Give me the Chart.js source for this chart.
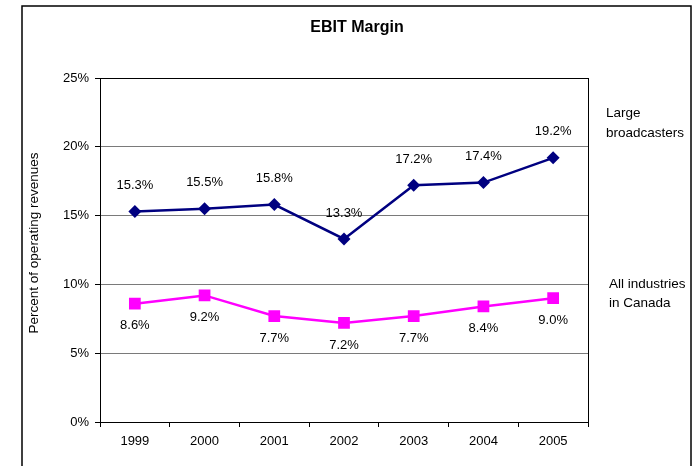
<!DOCTYPE html>
<html>
<head>
<meta charset="utf-8">
<script src="https://cdn.jsdelivr.net/npm/chart.js@4.4.1/dist/chart.umd.min.js"></script>
<style>
  body { margin: 0; background: #fff; }
  #wrap { width: 693px; height: 466px; }
</style>
</head>
<body>
<div id="wrap"><canvas id="myChart" width="693" height="466"></canvas></div>
<script>
const YEARS = ['1999', '2000', '2001', '2002', '2003', '2004', '2005'];
const LARGE_BROADCASTERS = [15.3, 15.5, 15.8, 13.3, 17.2, 17.4, 19.2];
const ALL_INDUSTRIES = [8.6, 9.2, 7.7, 7.2, 7.7, 8.4, 9.0];
const Y_TICKS = [0, 5, 10, 15, 20, 25];
const CHART_TITLE = 'EBIT Margin';
const Y_TITLE = 'Percent of operating revenues';
const SERIES_NAMES = [['Large', 'broadcasters'], ['All industries', 'in Canada']];

const FONT = "'Liberation Sans', Arial, sans-serif";

// frame, titles, side labels and the value labels
var decorPlugin = {
    id: 'decor',
    beforeDraw: function(chart) {
        var ctx = chart.ctx;
        ctx.save();
        ctx.fillStyle = '#fff';
        ctx.fillRect(0, 0, chart.width, chart.height);
        ctx.restore();
    },
    afterDraw: function(chart) {
        var ctx = chart.ctx;
        var area = chart.chartArea;
        ctx.save();

        // outer frame
        ctx.strokeStyle = '#000';
        ctx.lineWidth = 1.5;
        ctx.strokeRect(22, 6, 669, 520);

        // plot area box
        ctx.lineWidth = 1;
        ctx.strokeRect(Math.round(area.left) + 0.5, Math.round(area.top) + 0.5,
                       Math.round(area.right - area.left), Math.round(area.bottom - area.top));

        ctx.fillStyle = '#000';
        ctx.font = 'bold 16px ' + FONT;
        ctx.textAlign = 'center';
        ctx.textBaseline = 'middle';
        ctx.fillText(CHART_TITLE, 357, 28);

        // y axis title
        ctx.save();
        ctx.translate(34, 243);
        ctx.rotate(-Math.PI / 2);
        ctx.font = '13.5px ' + FONT;
        ctx.fillText(Y_TITLE, 0, 0);
        ctx.restore();

        // series names on the right
        ctx.font = '13.5px ' + FONT;
        ctx.textAlign = 'left';
        ctx.fillText(SERIES_NAMES[0][0], 606, 113);
        ctx.fillText(SERIES_NAMES[0][1], 606, 133);
        ctx.fillText(SERIES_NAMES[1][0], 609, 284);
        ctx.fillText(SERIES_NAMES[1][1], 609, 303);

        // value labels
        ctx.font = '13px ' + FONT;
        ctx.textAlign = 'center';
        chart.data.datasets.forEach(function(ds, i) {
            var meta = chart.getDatasetMeta(i);
            var off = i === 0 ? -26 : 22;
            meta.data.forEach(function(pt, j) {
                ctx.fillText(ds.data[j].toFixed(1) + '%', pt.x, pt.y + off);
            });
        });
        ctx.restore();
    }
};

var ctx = document.getElementById('myChart').getContext('2d');
new Chart(ctx, {
    type: 'line',
    data: {
        labels: YEARS,
        datasets: [{
            label: SERIES_NAMES[0].join(' '),
            data: LARGE_BROADCASTERS,
            borderColor: '#000080',
            backgroundColor: '#000080',
            borderWidth: 2.5,
            pointStyle: 'rectRot',
            pointRadius: 6.5,
            pointBorderWidth: 0,
            tension: 0
        }, {
            label: SERIES_NAMES[1].join(' '),
            data: ALL_INDUSTRIES,
            borderColor: '#FF00FF',
            backgroundColor: '#FF00FF',
            borderWidth: 2.5,
            pointStyle: 'rect',
            pointRadius: 8.3,
            pointBorderWidth: 0,
            tension: 0
        }]
    },
    options: {
        responsive: false,
        animation: false,
        layout: {
            padding: { left: 20, right: 105, top: 78, bottom: 0 }
        },
        plugins: {
            legend: { display: false },
            title: { display: false },
            tooltip: { enabled: false }
        },
        scales: {
            x: {
                offset: true,
                grid: {
                    offset: true,
                    drawOnChartArea: false,
                    tickLength: 5,
                    tickColor: '#000'
                },
                border: { color: '#000', width: 1 },
                ticks: {
                    color: '#000',
                    font: { family: FONT, size: 13 },
                    padding: 7,
                    maxRotation: 0
                },
                afterFit: function(scale) { scale.height = 44; }
            },
            y: {
                min: 0,
                max: 25,
                afterBuildTicks: function(scale) {
                    scale.ticks = Y_TICKS.map(function(v) { return { value: v }; });
                },
                grid: {
                    color: '#7a7a7a',
                    tickLength: 5,
                    tickColor: '#000'
                },
                border: { color: '#000', width: 1 },
                ticks: {
                    color: '#000',
                    font: { family: FONT, size: 13 },
                    padding: 6,
                    callback: function(v) { return v + '%'; }
                },
                afterFit: function(scale) { scale.width = 80; }
            }
        }
    },
    plugins: [decorPlugin]
});
</script>
</body>
</html>
